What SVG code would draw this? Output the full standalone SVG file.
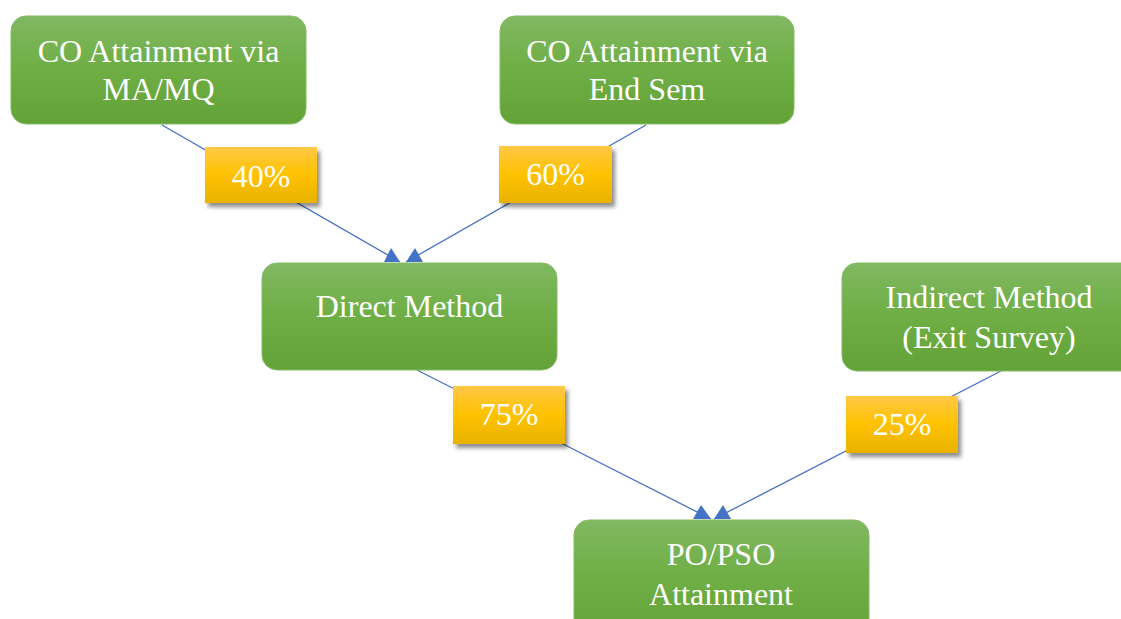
<svg xmlns="http://www.w3.org/2000/svg" width="1121" height="619" viewBox="0 0 1121 619">
  <defs>
    <linearGradient id="gGreen" x1="0" y1="0" x2="0" y2="1">
      <stop offset="0" stop-color="#81b862"/>
      <stop offset="0.5" stop-color="#6eae44"/>
      <stop offset="1" stop-color="#62a237"/>
    </linearGradient>
    <linearGradient id="gGold" x1="0" y1="0" x2="0" y2="1">
      <stop offset="0" stop-color="#ffc847"/>
      <stop offset="0.5" stop-color="#ffc200"/>
      <stop offset="1" stop-color="#e8b200"/>
    </linearGradient>
    <filter id="shadow" x="-20%" y="-20%" width="150%" height="160%">
      <feDropShadow dx="3" dy="4" stdDeviation="2" flood-color="#000" flood-opacity="0.45"/>
    </filter>
    <style>
      .node { fill: url(#gGreen); stroke: #86bb66; stroke-width: 1; }
      .tag { fill: url(#gGold); filter: url(#shadow); }
      .txt { font-family: 'Liberation Serif', Tinos, 'Times New Roman', 'DejaVu Serif', serif; font-size: 32px; fill: #ffffff; text-anchor: middle; }
      .edge { stroke: #4472c4; stroke-width: 1.3; fill: none; }
      .head { fill: #4472c4; }
    </style>
  </defs>

  <rect width="1121" height="619" fill="#ffffff"/>

  <!-- connectors (drawn first so the weight tags sit on top) -->
  <g id="connectors">
    <path class="edge" d="M162,125 L400,262"/>
    <polygon class="head" points="400,262 384,262 391,248"/>
    <path class="edge" d="M646,125 L406,262"/>
    <polygon class="head" points="406,262 415,248 423,262"/>
    <path class="edge" d="M417,370 L711,519"/>
    <polygon class="head" points="711,519 693,519 701,505"/>
    <path class="edge" d="M1001,371 L714,519"/>
    <polygon class="head" points="714,519 723,505 731,519"/>
  </g>

  <g id="node-co-mamq">
    <rect class="node" x="11" y="16" width="295" height="108" rx="15"/>
    <text class="txt" x="158.5" y="62">CO Attainment via</text>
    <text class="txt" x="158.5" y="100">MA/MQ</text>
  </g>

  <g id="node-co-endsem">
    <rect class="node" x="500" y="16" width="294" height="108" rx="15"/>
    <text class="txt" x="647" y="62">CO Attainment via</text>
    <text class="txt" x="647" y="100">End Sem</text>
  </g>

  <g id="node-direct">
    <rect class="node" x="262" y="263" width="295" height="107" rx="15"/>
    <text class="txt" x="409.5" y="317">Direct Method</text>
  </g>

  <g id="node-indirect">
    <rect class="node" x="842" y="263" width="295" height="108" rx="15"/>
    <text class="txt" x="989" y="308">Indirect Method</text>
    <text class="txt" x="989" y="348">(Exit Survey)</text>
  </g>

  <g id="node-po-pso">
    <rect class="node" x="574" y="520" width="295" height="120" rx="15"/>
    <text class="txt" x="721" y="565">PO/PSO</text>
    <text class="txt" x="721" y="605">Attainment</text>
  </g>

  <g id="tag-40">
    <rect class="tag" x="205" y="147" width="112" height="56"/>
    <text class="txt" x="261" y="187">40%</text>
  </g>

  <g id="tag-60">
    <rect class="tag" x="499" y="146" width="113" height="57"/>
    <text class="txt" x="555.5" y="185">60%</text>
  </g>

  <g id="tag-75">
    <rect class="tag" x="453" y="386" width="112" height="58"/>
    <text class="txt" x="509" y="425">75%</text>
  </g>

  <g id="tag-25">
    <rect class="tag" x="846" y="396" width="112" height="57"/>
    <text class="txt" x="902" y="435">25%</text>
  </g>
</svg>
